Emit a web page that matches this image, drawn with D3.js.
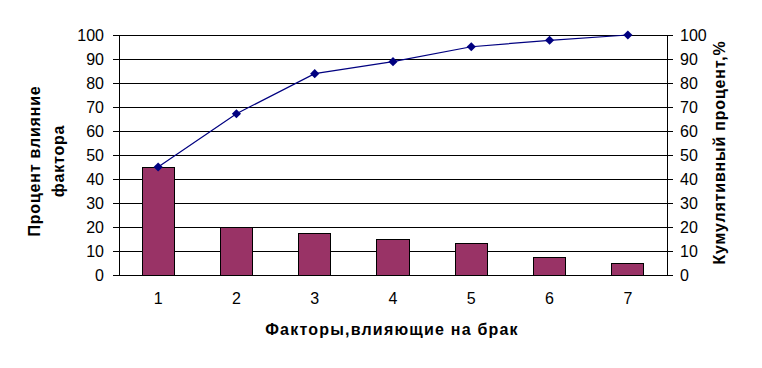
<!DOCTYPE html>
<html><head><meta charset="utf-8">
<script src="https://cdn.jsdelivr.net/npm/d3@7"></script>
<style>body{margin:0;background:#fff}svg{display:block}text{font-family:"Liberation Sans",Arial,sans-serif}</style>
</head><body>
<svg id="c" width="762" height="368"></svg>
<script>
const categories = ["1","2","3","4","5","6","7"];
const influence = [45, 20, 17.5, 15, 13, 7.5, 5];
const cumulative = [45, 67.2, 83.9, 88.9, 95.1, 97.8, 100];
const yTicks = [0,10,20,30,40,50,60,70,80,90,100];

const svg = d3.select("#c");
const L = 119, R = 667, T = 35, B = 275;
const x = d3.scaleBand().domain(categories).range([L, R]).paddingInner(0.59).paddingOuter(0.295);
const y = d3.scaleLinear().domain([0,100]).range([B, T]);
const y2 = d3.scaleLinear().domain([0,100]).range([B, T]);

// gridlines
svg.append("g").selectAll("line").data(yTicks.filter(d=>d>0)).join("line")
  .attr("x1", L).attr("x2", R).attr("y1", d=>y(d)).attr("y2", d=>y(d))
  .attr("stroke", "#000").attr("stroke-width", 1).attr("shape-rendering","crispEdges");

// bars
svg.append("g").selectAll("rect").data(influence).join("rect")
  .attr("x", (d,i)=>x(categories[i])).attr("width", x.bandwidth())
  .attr("y", d=>y(d)).attr("height", d=>B - y(d))
  .attr("fill", "#993366").attr("stroke", "#000").attr("stroke-width", 1).attr("shape-rendering","crispEdges");

// axes
const fs = "16px";
const la = svg.append("g").attr("transform", `translate(${L},0)`).call(d3.axisLeft(y).tickValues(yTicks).tickSize(6).tickPadding(9));
const ra = svg.append("g").attr("transform", `translate(${R},0)`).call(d3.axisRight(y2).tickValues(yTicks).tickSize(6).tickPadding(7));
const ba = svg.append("g").attr("transform", `translate(0,${B})`).call(d3.axisBottom(x).tickSize(0).tickPadding(18));
[la, ra, ba].forEach(g => {
  g.selectAll("text").attr("font-size", fs).attr("font-family", "Liberation Sans, Arial, sans-serif").attr("fill","#000");
  g.selectAll("path,line").attr("stroke","#000").attr("shape-rendering","crispEdges");
});
ba.select(".domain").attr("d", `M${L},0.5H${R}`);

// cumulative line
const line = d3.line().x((d,i)=>x(categories[i]) + x.bandwidth()/2).y(d=>y2(d));
svg.append("path").datum(cumulative).attr("d", line).attr("fill","none").attr("stroke","#000080").attr("stroke-width",1.2);
svg.append("g").selectAll("path").data(cumulative).join("path")
  .attr("d", d3.symbol().type(d3.symbolSquare).size(42))
  .attr("transform", (d,i)=>`translate(${x(categories[i]) + x.bandwidth()/2},${y2(d)}) rotate(45)`)
  .attr("fill", "#000080");

// titles
const lt = svg.append("text").attr("transform", "translate(0,161) rotate(-90)")
  .attr("text-anchor","middle").attr("font-size","16px").attr("font-weight","bold").attr("letter-spacing","0.8px");
lt.append("tspan").attr("x",0).attr("y",40).text("Процент влияние");
lt.append("tspan").attr("x",0).attr("y",64).text("фактора");

svg.append("text").attr("transform", "translate(725,152.5) rotate(-90)")
  .attr("text-anchor","middle").attr("font-size","16px").attr("font-weight","bold").attr("letter-spacing","0.8px")
  .text("Кумулятивный процент,%");

svg.append("text").attr("x", 392).attr("y", 335).attr("text-anchor","middle")
  .attr("font-size","16px").attr("font-weight","bold").attr("letter-spacing","1.2px")
  .text("Факторы,влияющие на брак");
</script>
</body></html>
